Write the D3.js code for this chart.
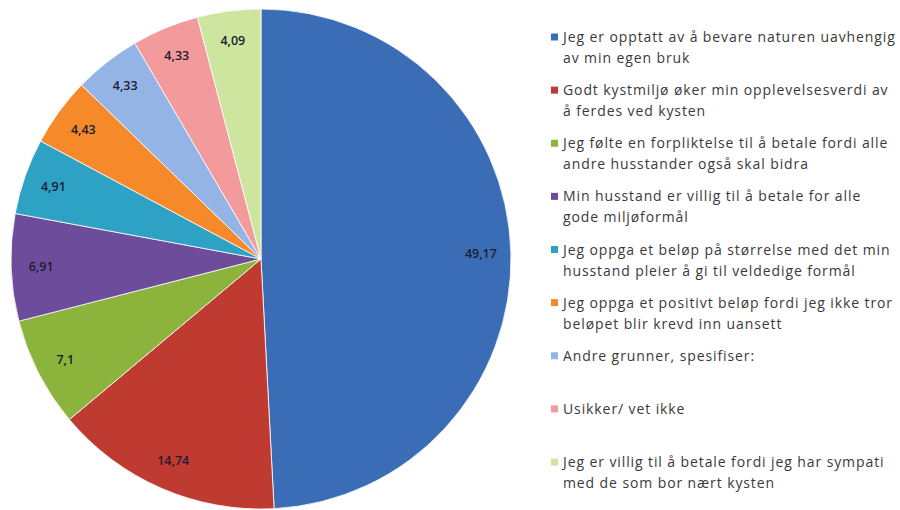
<!DOCTYPE html>
<html>
<head>
<meta charset="utf-8">
<script src="https://cdn.jsdelivr.net/npm/d3@7"></script>
<style>
  body { margin: 0; background: #fff; }
  svg { display: block; }
</style>
</head>
<body>
<script>
const width = 900;
const height = 510;

// answers, in drawing order (clockwise from 12 o'clock)
const categories = [
    ["Jeg er opptatt av å bevare naturen uavhengig", "av min egen bruk"],
    ["Godt kystmiljø øker min opplevelsesverdi av", "å ferdes ved kysten"],
    ["Jeg følte en forpliktelse til å betale fordi alle", "andre husstander også skal bidra"],
    ["Min husstand er villig til å betale for alle", "gode miljøformål"],
    ["Jeg oppga et beløp på størrelse med det min", "husstand pleier å gi til veldedige formål"],
    ["Jeg oppga et positivt beløp fordi jeg ikke tror", "beløpet blir krevd inn uansett"],
    ["Andre grunner, spesifiser:"],
    ["Usikker/ vet ikke"],
    ["Jeg er villig til å betale fordi jeg har sympati", "med de som bor nært kysten"]
];
const values = [49.17, 14.74, 7.1, 6.91, 4.91, 4.43, 4.33, 4.33, 4.09];
const colors = ["#3b6db6", "#bf3a30", "#8cb43c", "#6e4c9c", "#2da2c4",
                "#f68a2a", "#95b4e6", "#f29a9c", "#cde59e"];

const svg = d3.select("body").append("svg")
    .attr("width", width)
    .attr("height", height)

const cx = 261, cy = 259, r = 250;

const pie = d3.pie().sort(null).value(d => d)
const arcs = pie(values)

const arc = d3.arc().innerRadius(0).outerRadius(r)
const labelArc = d3.arc().innerRadius(r * 0.88).outerRadius(r * 0.88)

const g = svg.append("g").attr("transform", `translate(${cx},${cy})`)

g.selectAll("path")
    .data(arcs)
    .join("path")
    .attr("d", arc)
    .attr("fill", (d, i) => colors[i])
    .attr("stroke", "#fff")
    .attr("stroke-width", 0.8)

g.selectAll("text")
    .data(arcs)
    .join("text")
    .attr("transform", d => `translate(${labelArc.centroid(d)})`)
    .attr("text-anchor", "middle")
    .attr("dy", "0.35em")
    .attr("font-family", "'Open Sans', sans-serif")
    .attr("font-size", 12.5)
    .attr("font-weight", 600)
    .attr("fill", "#1c1c30")
    .text(d => String(d.data).replace(".", ","))

// legend
const y = d3.scaleLinear().domain([0, categories.length - 1]).range([37, 462])

const legend = svg.append("g")
    .selectAll("g")
    .data(categories)
    .join("g")
    .attr("transform", (d, i) => `translate(551,${y(i)})`)

legend.append("rect")
    .attr("x", 0)
    .attr("y", -3.5)
    .attr("width", 7)
    .attr("height", 7)
    .attr("fill", (d, i) => colors[i])

legend.append("text")
    .attr("font-family", "'Open Sans', sans-serif")
    .attr("font-size", 14)
    .attr("letter-spacing", 0.9)
    .attr("fill", "#3a3a3a")
    .selectAll("tspan")
    .data(d => d)
    .join("tspan")
    .attr("x", 12)
    .attr("y", (d, i) => 5 + i * 21)
    .text(d => d)
</script>
</body>
</html>
